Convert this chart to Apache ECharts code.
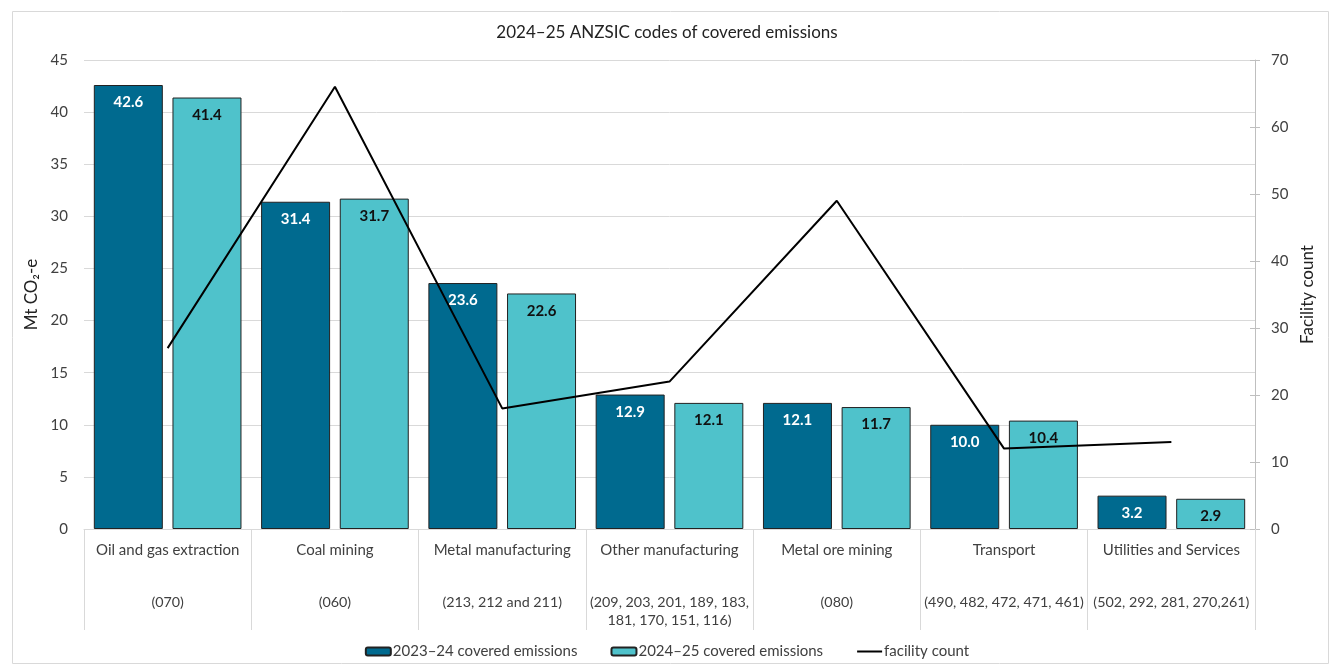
<!DOCTYPE html>
<html>
<head>
<meta charset="utf-8">
<script src="https://cdn.jsdelivr.net/npm/echarts@6/dist/echarts.min.js"></script>
<style>
  html, body { margin: 0; padding: 0; background: #fff; }
  #chart { width: 1334px; height: 667px; }
</style>
</head>
<body>
<div id="chart"></div>
<script>
// Sector names and their ANZSIC code groups
const sectors = ['Oil and gas extraction', 'Coal mining', 'Metal manufacturing', 'Other manufacturing', 'Metal ore mining', 'Transport', 'Utilities and Services'];
const codeLines = [
  ['(070)'],
  ['(060)'],
  ['(213, 212 and 211)'],
  ['(209, 203, 201, 189, 183,', '181, 170, 151, 116)'],
  ['(080)'],
  ['(490, 482, 472, 471, 461)'],
  ['(502, 292, 281, 270,261)']
];
// Covered emissions, Mt CO2-e
const emissions2324 = [42.6, 31.4, 23.6, 12.9, 12.1, 10.0, 3.2];
const emissions2425 = [41.4, 31.7, 22.6, 12.1, 11.7, 10.4, 2.9];
// Number of facilities per sector
const facilityCount = [27, 66, 18, 22, 49, 12, 13];

const FONT = 'Lato, "Liberation Sans", sans-serif';
const TEXT = '#404040';
const GRID = '#d9d9d9';
const DARK = '#006a8f';
const LIGHT = '#4fc2cb';

const labelFor = {};
sectors.forEach((s, i) => { labelFor[s] = codeLines[i]; });

const chart = echarts.init(document.getElementById('chart'), null, { renderer: 'canvas' });
chart.setOption({
  animation: false,
  textStyle: { fontFamily: FONT },
  title: {
    text: '2024\u201325 ANZSIC codes of covered emissions',
    left: 'center', top: 19,
    textStyle: { fontFamily: FONT, fontSize: 17, fontWeight: 'normal', color: '#222' }
  },
  graphic: [{
    type: 'rect', left: 10, top: 9, silent: true, z: -10,
    shape: { width: 1316, height: 652 },
    style: { fill: 'none', stroke: GRID, lineWidth: 1 }
  }],
  legend: {
    bottom: 3, left: 'center', itemGap: 33, itemWidth: 25, itemHeight: 8,
    textStyle: { fontFamily: FONT, fontSize: 15, color: TEXT, padding: [0, 0, 0, -3] },
    data: [
      { name: '2023\u201324 covered emissions' },
      { name: '2024\u201325 covered emissions' },
      { name: 'facility count', itemStyle: { opacity: 0 } }
    ]
  },
  grid: { left: 84, right: 79, top: 60, bottom: 138, containLabel: false },
  xAxis: {
    type: 'category',
    data: sectors,
    axisLine: { show: true, lineStyle: { color: GRID } },
    axisTick: { show: true, alignWithLabel: false, length: 101, lineStyle: { color: GRID } },
    axisLabel: {
      interval: 0, margin: 12,
      formatter: (v) => {
        const lines = ['{a|' + v + '}', '{s| }'];
        labelFor[v].forEach(l => lines.push('{b|' + l + '}'));
        return lines.join('\n');
      },
      rich: {
        a: { fontFamily: FONT, fontSize: 15, color: TEXT, lineHeight: 18 },
        s: { fontSize: 10, lineHeight: 34 },
        b: { fontFamily: FONT, fontSize: 14.3, color: TEXT, lineHeight: 18 }
      }
    }
  },
  yAxis: [
    {
      type: 'value', min: 0, max: 45, interval: 5,
      name: 'Mt CO\u2082-e', nameLocation: 'middle', nameGap: 40, nameRotate: 90,
      nameTextStyle: { fontFamily: FONT, fontSize: 17, color: '#222' },
      axisLine: { show: false }, axisTick: { show: false },
      axisLabel: { fontFamily: FONT, fontSize: 15, color: TEXT, margin: 16 },
      splitLine: { lineStyle: { color: GRID } }
    },
    {
      type: 'value', min: 0, max: 70, interval: 10, position: 'right',
      name: 'Facility count', nameLocation: 'middle', nameGap: 40, nameRotate: 90,
      nameTextStyle: { fontFamily: FONT, fontSize: 17, color: '#222' },
      axisLine: { show: true, lineStyle: { color: '#bfbfbf' } },
      axisTick: { show: true, length: 5, lineStyle: { color: '#bfbfbf' } },
      axisLabel: { fontFamily: FONT, fontSize: 15, color: TEXT, margin: 16 },
      splitLine: { show: false }
    },
    {
      // inward half of the cross tick marks on the right axis
      type: 'value', min: 0, max: 70, interval: 10, position: 'right',
      axisLine: { show: false },
      axisTick: { show: true, inside: true, length: 5, lineStyle: { color: '#bfbfbf' } },
      axisLabel: { show: false },
      splitLine: { show: false }
    }
  ],
  series: [
    {
      name: '2023\u201324 covered emissions', type: 'bar', data: emissions2324,
      barWidth: 69, barGap: '14%',
      itemStyle: { color: DARK, borderColor: '#222', borderWidth: 1 },
      label: {
        show: true, position: 'insideTop', distance: 10,
        formatter: (p) => p.value.toFixed(1),
        fontFamily: FONT, fontSize: 15, fontWeight: 'bold', color: '#fff'
      }
    },
    {
      name: '2024\u201325 covered emissions', type: 'bar', data: emissions2425,
      barWidth: 69, barGap: '14%',
      itemStyle: { color: LIGHT, borderColor: '#222', borderWidth: 1 },
      label: {
        show: true, position: 'insideTop', distance: 10,
        formatter: (p) => p.value.toFixed(1),
        fontFamily: FONT, fontSize: 15, fontWeight: 'bold', color: '#111'
      }
    },
    {
      name: 'facility count', type: 'line', yAxisIndex: 1, data: facilityCount,
      symbol: 'none', z: 5,
      lineStyle: { color: '#000', width: 2 },
      itemStyle: { color: '#000' }
    }
  ]
});
</script>
</body>
</html>
